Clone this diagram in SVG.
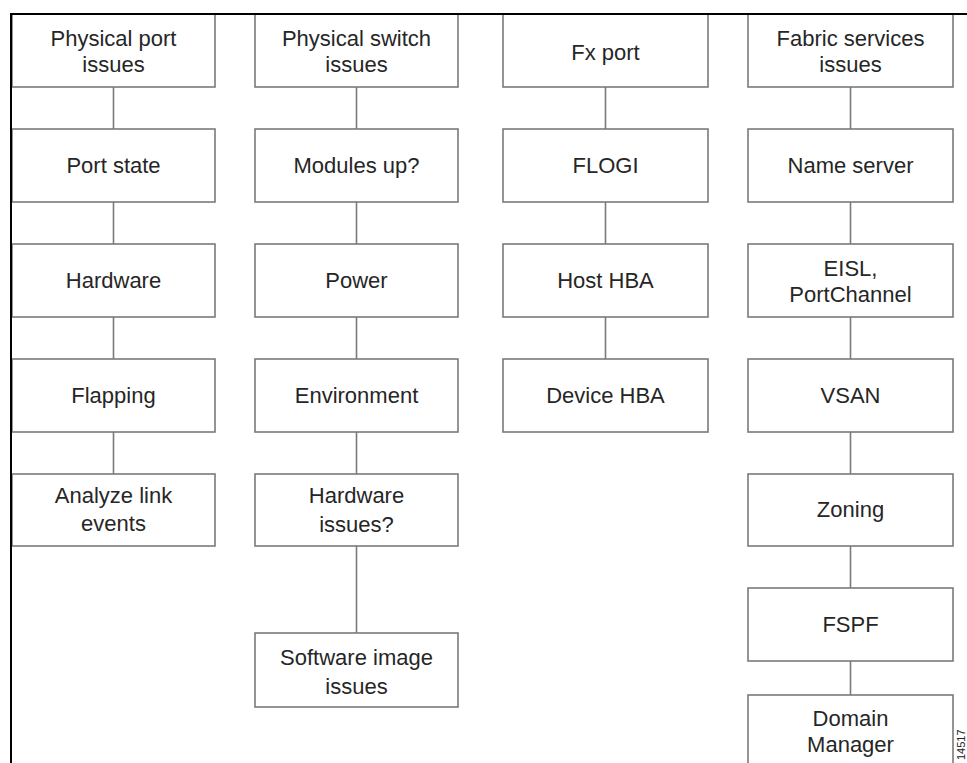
<svg xmlns="http://www.w3.org/2000/svg" width="967" height="763" viewBox="0 0 967 763">
  <style>
    .box { fill: #ffffff; stroke: #7a7a7a; stroke-width: 1.6; }
    .lbl { font-family: "Liberation Sans", Arial, sans-serif; font-size: 22px; fill: #262626; text-anchor: middle; }
    .wire { stroke: #7a7a7a; stroke-width: 1.6; fill: none; }
    .frame { stroke: #000000; stroke-width: 2; fill: none; }
    .tag { font-family: "Liberation Sans", Arial, sans-serif; font-size: 11px; fill: #222222; }
  </style>
  <rect x="0" y="0" width="967" height="763" fill="#ffffff"/>

  <!-- connectors -->
  <g id="connectors">
    <line class="wire" x1="113.5" y1="87" x2="113.5" y2="129"/>
    <line class="wire" x1="113.5" y1="202" x2="113.5" y2="244"/>
    <line class="wire" x1="113.5" y1="317" x2="113.5" y2="359"/>
    <line class="wire" x1="113.5" y1="432" x2="113.5" y2="474"/>

    <line class="wire" x1="356.5" y1="87" x2="356.5" y2="129"/>
    <line class="wire" x1="356.5" y1="202" x2="356.5" y2="244"/>
    <line class="wire" x1="356.5" y1="317" x2="356.5" y2="359"/>
    <line class="wire" x1="356.5" y1="432" x2="356.5" y2="474"/>
    <line class="wire" x1="356.5" y1="546" x2="356.5" y2="633"/>

    <line class="wire" x1="605.5" y1="87" x2="605.5" y2="129"/>
    <line class="wire" x1="605.5" y1="202" x2="605.5" y2="244"/>
    <line class="wire" x1="605.5" y1="317" x2="605.5" y2="359"/>

    <line class="wire" x1="850.5" y1="87" x2="850.5" y2="129"/>
    <line class="wire" x1="850.5" y1="202" x2="850.5" y2="244"/>
    <line class="wire" x1="850.5" y1="317" x2="850.5" y2="359"/>
    <line class="wire" x1="850.5" y1="432" x2="850.5" y2="474"/>
    <line class="wire" x1="850.5" y1="546" x2="850.5" y2="588"/>
    <line class="wire" x1="850.5" y1="661" x2="850.5" y2="695"/>
  </g>

  <!-- column 1 -->
  <g id="physical-port-issues"><rect class="box" x="12" y="14" width="203" height="73"/><text class="lbl" x="113.5" y="46">Physical port</text><text class="lbl" x="113.5" y="72">issues</text></g>
  <g id="port-state"><rect class="box" x="12" y="129" width="203" height="73"/><text class="lbl" x="113.5" y="173">Port state</text></g>
  <g id="hardware"><rect class="box" x="12" y="244" width="203" height="73"/><text class="lbl" x="113.5" y="288">Hardware</text></g>
  <g id="flapping"><rect class="box" x="12" y="359" width="203" height="73"/><text class="lbl" x="113.5" y="403">Flapping</text></g>
  <g id="analyze-link-events"><rect class="box" x="12" y="474" width="203" height="72"/><text class="lbl" x="113.5" y="503">Analyze link</text><text class="lbl" x="113.5" y="531">events</text></g>

  <!-- column 2 -->
  <g id="physical-switch-issues"><rect class="box" x="255" y="14" width="203" height="73"/><text class="lbl" x="356.5" y="46">Physical switch</text><text class="lbl" x="356.5" y="72">issues</text></g>
  <g id="modules-up"><rect class="box" x="255" y="129" width="203" height="73"/><text class="lbl" x="356.5" y="173">Modules up?</text></g>
  <g id="power"><rect class="box" x="255" y="244" width="203" height="73"/><text class="lbl" x="356.5" y="288">Power</text></g>
  <g id="environment"><rect class="box" x="255" y="359" width="203" height="73"/><text class="lbl" x="356.5" y="403">Environment</text></g>
  <g id="hardware-issues"><rect class="box" x="255" y="474" width="203" height="72"/><text class="lbl" x="356.5" y="503">Hardware</text><text class="lbl" x="356.5" y="532">issues?</text></g>
  <g id="software-image-issues"><rect class="box" x="255" y="633" width="203" height="74"/><text class="lbl" x="356.5" y="665">Software image</text><text class="lbl" x="356.5" y="694">issues</text></g>

  <!-- column 3 -->
  <g id="fx-port"><rect class="box" x="503" y="14" width="205" height="73"/><text class="lbl" x="605.5" y="60">Fx port</text></g>
  <g id="flogi"><rect class="box" x="503" y="129" width="205" height="73"/><text class="lbl" x="605.5" y="173">FLOGI</text></g>
  <g id="host-hba"><rect class="box" x="503" y="244" width="205" height="73"/><text class="lbl" x="605.5" y="288">Host HBA</text></g>
  <g id="device-hba"><rect class="box" x="503" y="359" width="205" height="73"/><text class="lbl" x="605.5" y="403">Device HBA</text></g>

  <!-- column 4 -->
  <g id="fabric-services-issues"><rect class="box" x="748" y="14" width="205" height="73"/><text class="lbl" x="850.5" y="46">Fabric services</text><text class="lbl" x="850.5" y="72">issues</text></g>
  <g id="name-server"><rect class="box" x="748" y="129" width="205" height="73"/><text class="lbl" x="850.5" y="173">Name server</text></g>
  <g id="eisl-portchannel"><rect class="box" x="748" y="244" width="205" height="73"/><text class="lbl" x="850.5" y="276">EISL,</text><text class="lbl" x="850.5" y="302">PortChannel</text></g>
  <g id="vsan"><rect class="box" x="748" y="359" width="205" height="73"/><text class="lbl" x="850.5" y="403">VSAN</text></g>
  <g id="zoning"><rect class="box" x="748" y="474" width="205" height="72"/><text class="lbl" x="850.5" y="517">Zoning</text></g>
  <g id="fspf"><rect class="box" x="748" y="588" width="205" height="73"/><text class="lbl" x="850.5" y="632">FSPF</text></g>
  <g id="domain-manager"><rect class="box" x="748" y="695" width="205" height="80"/><text class="lbl" x="850.5" y="726">Domain</text><text class="lbl" x="850.5" y="752">Manager</text></g>

  <!-- frame -->
  <g id="frame">
    <line class="frame" x1="11" y1="14" x2="967" y2="14"/>
    <line class="frame" x1="11" y1="13" x2="11" y2="763"/>
  </g>

  <!-- figure number, rotated -->
  <text class="tag" transform="translate(965 760) rotate(-90)">14517</text>
</svg>
